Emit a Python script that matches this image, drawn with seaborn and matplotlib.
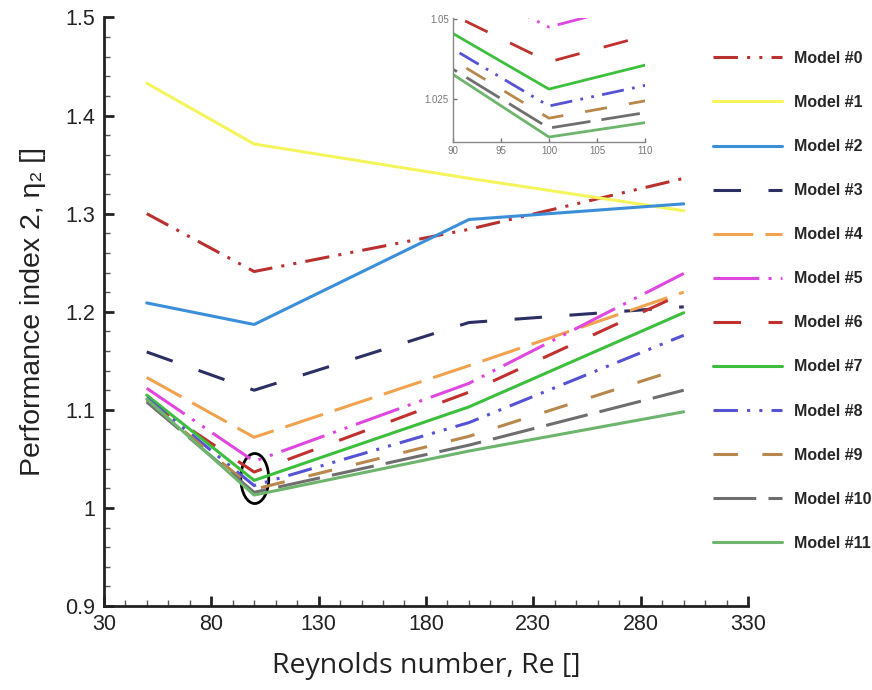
import pandas as pd
import matplotlib

matplotlib.use("Agg")
import matplotlib.pyplot as plt
from matplotlib.patches import Ellipse
from matplotlib.ticker import MultipleLocator, FixedLocator
import seaborn as sns

sns.set_theme(style="white", rc={"xtick.direction": "in", "ytick.direction": "in",
                                 "xtick.bottom": True, "ytick.left": True})
plt.rcParams["font.family"] = ["Liberation Sans", "DejaVu Sans"]

# Reynolds numbers sampled
re_values = [50, 100, 200, 300]

# performance index eta2 per model
model_0 = [1.300, 1.241, 1.284, 1.336]
model_1 = [1.433, 1.371, 1.336, 1.303]
model_2 = [1.209, 1.187, 1.294, 1.310]
model_3 = [1.159, 1.120, 1.189, 1.205]
model_4 = [1.133, 1.072, 1.145, 1.220]
model_5 = [1.122, 1.0475, 1.127, 1.239]
model_6 = [1.110, 1.0366, 1.118, 1.219]
model_7 = [1.115, 1.0281, 1.103, 1.199]
model_8 = [1.112, 1.0228, 1.087, 1.176]
model_9 = [1.110, 1.019, 1.073, 1.143]
model_10 = [1.108, 1.0159, 1.064, 1.120]
model_11 = [1.111, 1.0131, 1.058, 1.098]

labels = ["Model #0", "Model #1", "Model #2", "Model #3", "Model #4", "Model #5",
          "Model #6", "Model #7", "Model #8", "Model #9", "Model #10", "Model #11"]
series = [model_0, model_1, model_2, model_3, model_4, model_5,
          model_6, model_7, model_8, model_9, model_10, model_11]

x_ticks = [30, 80, 130, 180, 230, 280, 330]
y_ticks = [0.9, 1.0, 1.1, 1.2, 1.3, 1.4, 1.5]
y_tick_labels = ["0.9", "1", "1.1", "1.2", "1.3", "1.4", "1.5"]

colors = ["#b8312f", "#f4f45c", "#3b8fd9", "#2c2f63", "#f0a24f", "#e046e0",
          "#c0302c", "#3cbf3c", "#5552d4", "#b8874c", "#6e6e6e", "#6db56d"]
styles = [(0, (8, 3, 1, 3, 1, 3)), "-", "-", (0, (9, 9)), (0, (13, 4)),
          (0, (15, 3, 1, 3, 1, 3)), (0, (9, 9)), "-", (0, (8, 3, 1, 3, 1, 3)),
          (0, (8, 8)), (0, (14, 4)), "-"]

df = pd.DataFrame({
    "Re": re_values * len(labels),
    "eta": [v for s in series for v in s],
    "model": [lab for lab in labels for _ in re_values],
})

fig = plt.figure(figsize=(8.72, 6.9), dpi=100)
ax = fig.add_axes([0.119, 0.1217, 0.739, 0.853])

for lab, col, ls in zip(labels, colors, styles):
    sub = df[df["model"] == lab]
    sns.lineplot(data=sub, x="Re", y="eta", ax=ax, color=col, linestyle=ls,
                 linewidth=2.2, label=lab)

ax.set_xlim(30, 330)
ax.set_ylim(0.9, 1.5)
ax.xaxis.set_major_locator(FixedLocator(x_ticks))
ax.xaxis.set_minor_locator(MultipleLocator(10))
ax.yaxis.set_major_locator(FixedLocator(y_ticks))
ax.yaxis.set_minor_locator(MultipleLocator(0.02))
ax.set_yticklabels(y_tick_labels)
ax.tick_params(axis="both", which="major", direction="in", length=7, width=2,
               labelsize=15.5, colors="#222222", pad=6)
ax.tick_params(axis="both", which="minor", direction="in", length=4, width=1,
               colors="#555555")
for side in ["top", "right"]:
    ax.spines[side].set_visible(False)
for side in ["left", "bottom"]:
    ax.spines[side].set_color("#222222")
    ax.spines[side].set_linewidth(2)

ax.set_xlabel("Reynolds number, Re []", fontsize=20.5, family=["Open Sans", "DejaVu Sans"],
              labelpad=12, color="#222222")
ax.set_ylabel("Performance index 2, η₂ []", fontsize=20.5,
              family=["Liberation Sans", "DejaVu Sans"], labelpad=14, color="#222222")

# ellipse marking the zoomed region
ax.add_patch(Ellipse((100.3, 1.030), 13, 0.051, fill=False, edgecolor="black",
                     linewidth=2))

leg = ax.legend(loc="upper left", bbox_to_anchor=(713 / 872, 1 - 51 / 690),
                bbox_transform=fig.transFigure, frameon=False, handlelength=4.3,
                labelspacing=1.82, handletextpad=0.8, borderpad=0, borderaxespad=0,
                prop={"weight": "bold", "size": 11.5})

# inset around Re = 100
ins = fig.add_axes([0.5195, 0.794, 0.220, 0.1806])
for s, col, ls in zip(series, colors, styles):
    sns.lineplot(x=re_values, y=s, ax=ins, color=col, linestyle=ls, linewidth=2.0)
ins.set_xlim(90, 110)
ins.set_ylim(1.0115, 1.0505)
ins.xaxis.set_major_locator(MultipleLocator(5))
ins.yaxis.set_major_locator(FixedLocator([1.025, 1.05]))
ins.set_yticklabels(["1.025", "1.05"])
ins.tick_params(direction="in", length=3, width=1, labelsize=7, colors="#777777", pad=3)
for side in ["top", "right"]:
    ins.spines[side].set_visible(False)
for side in ["left", "bottom"]:
    ins.spines[side].set_color("#888888")
    ins.spines[side].set_linewidth(1)
ins.set_xlabel("")
ins.set_ylabel("")
ins.patch.set_alpha(0)

fig.savefig("out.png", dpi=100, facecolor="white")
